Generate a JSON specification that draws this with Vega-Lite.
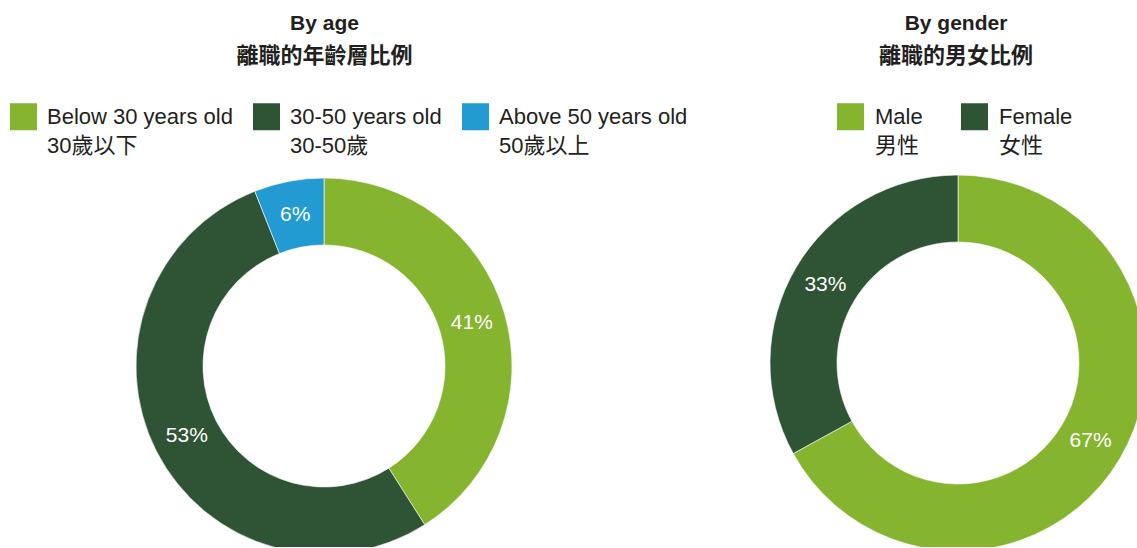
{
  "$schema": "https://vega.github.io/schema/vega-lite/v6.json",
  "padding": {"top": 13, "left": 0, "right": 0, "bottom": 0},
  "bounds": "flush",
  "spacing": 116,
  "background": "#ffffff",
  "datasets": {
    "age": [
      {"chart": "age", "group": "Below 30 years old|30歲以下", "share": 0.41, "rank": 1},
      {"chart": "age", "group": "30-50 years old|30-50歲", "share": 0.53, "rank": 2},
      {"chart": "age", "group": "Above 50 years old|50歲以上", "share": 0.06, "rank": 3}
    ],
    "gender": [
      {"chart": "gender", "group": "Male|男性", "share": 0.67, "rank": 1},
      {"chart": "gender", "group": "Female|女性", "share": 0.33, "rank": 2}
    ]
  },
  "config": {
    "view": {"stroke": null},
    "font": "Liberation Sans, Noto Sans CJK TC",
    "title": {
      "font": "Liberation Sans, Noto Sans CJK TC",
      "fontSize": 21,
      "fontWeight": "bold",
      "color": "#231f20",
      "subtitleFont": "Liberation Sans, Noto Sans CJK TC",
      "subtitleFontSize": 22,
      "subtitleFontWeight": "bold",
      "subtitleColor": "#231f20",
      "subtitlePadding": 12,
      "offset": 7,
      "anchor": "middle"
    },
    "legend": {
      "orient": "none",
      "direction": "horizontal",
      "title": null,
      "padding": 0,
      "symbolType": "square",
      "symbolSize": 729,
      "symbolStrokeWidth": 0,
      "symbolOpacity": 1,
      "labelFont": "Liberation Sans, Noto Sans CJK TC",
      "labelFontSize": 22,
      "labelColor": "#231f20",
      "labelLimit": 400,
      "labelOffset": 10
    },
    "style": {"guide-label": {"lineHeight": 29}}
  },
  "resolve": {"scale": {"color": "independent", "x": "independent", "y": "independent", "theta": "independent"}},
  "hconcat": [
    {
      "width": 649,
      "height": 473,
      "title": {"text": "By age", "subtitle": "離職的年齡層比例", "frame": "group"},
      "data": {"name": "age"},
      "encoding": {
        "x": {"field": "chart", "type": "nominal", "scale": {"range": [324, 324]}, "axis": null},
        "y": {"field": "chart", "type": "nominal", "scale": {"range": [292, 292]}, "axis": null},
        "theta": {"field": "share", "type": "quantitative", "stack": true},
        "order": {"field": "rank", "type": "quantitative"},
        "color": {
          "field": "group",
          "type": "nominal",
          "scale": {
            "domain": ["Below 30 years old|30歲以下", "30-50 years old|30-50歲", "Above 50 years old|50歲以上"],
            "range": ["#85b42f", "#2e5435", "#229bd3"]
          },
          "legend": {"legendX": 10, "legendY": 29, "columns": 3, "columnPadding": 20, "labelExpr": "split(datum.label, '|')"}
        }
      },
      "layer": [
        {"mark": {"type": "arc", "outerRadius": 188, "innerRadius": 121, "clip": true, "stroke": "#ffffff", "strokeWidth": 0.6}},
        {
          "mark": {"type": "text", "radius": 154, "fontSize": 21, "font": "Liberation Sans"},
          "encoding": {
            "color": {"value": "#ffffff"},
            "detail": {"field": "group"},
            "text": {"field": "share", "type": "quantitative", "format": ".0%"}
          }
        }
      ]
    },
    {
      "width": 372,
      "height": 473,
      "title": {"text": "By gender", "subtitle": "離職的男女比例", "frame": "group", "dx": 5},
      "data": {"name": "gender"},
      "encoding": {
        "x": {"field": "chart", "type": "nominal", "scale": {"range": [193, 193]}, "axis": null},
        "y": {"field": "chart", "type": "nominal", "scale": {"range": [289, 289]}, "axis": null},
        "theta": {"field": "share", "type": "quantitative", "stack": true},
        "order": {"field": "rank", "type": "quantitative"},
        "color": {
          "field": "group",
          "type": "nominal",
          "scale": {"domain": ["Male|男性", "Female|女性"], "range": ["#85b42f", "#2e5435"]},
          "legend": {"legendX": 72, "legendY": 29, "columns": 2, "columnPadding": 38, "labelOffset": 11, "labelExpr": "split(datum.label, '|')"}
        }
      },
      "layer": [
        {"mark": {"type": "arc", "outerRadius": 188, "innerRadius": 121, "clip": true, "stroke": "#ffffff", "strokeWidth": 0.6}},
        {
          "mark": {"type": "text", "radius": 154, "fontSize": 21, "font": "Liberation Sans"},
          "encoding": {
            "color": {"value": "#ffffff"},
            "detail": {"field": "group"},
            "text": {"field": "share", "type": "quantitative", "format": ".0%"}
          }
        }
      ]
    }
  ]
}
